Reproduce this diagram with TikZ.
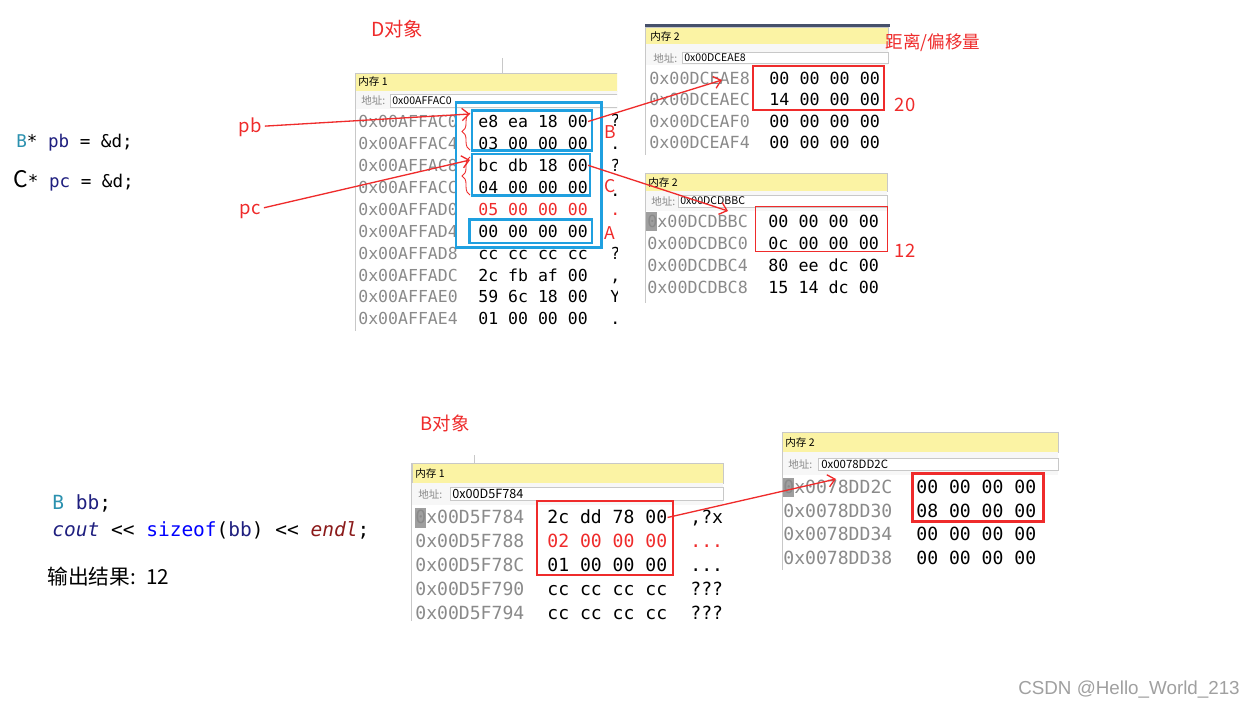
\documentclass[tikz,border=0pt]{standalone}
\usepackage{fontspec}
\setmainfont{Noto Sans CJK SC}
\setmonofont{DejaVu Sans Mono}
\newfontfamily\markfont{Liberation Sans}
\usetikzlibrary{arrows.meta, decorations.pathreplacing}
\definecolor{notered}{HTML}{EF2B2B}
\definecolor{boxblue}{HTML}{1FA0E0}
\definecolor{titleyellow}{HTML}{FBF3A4}
\definecolor{addrgray}{HTML}{8A8A8A}
\definecolor{framegray}{HTML}{C8C8C8}
\definecolor{framedark}{HTML}{46506A}
\definecolor{typeteal}{HTML}{2B91AF}
\definecolor{identnavy}{HTML}{1F1F7F}
\definecolor{kwblue}{HTML}{0000FF}
\definecolor{endlred}{HTML}{8B1A1A}
\definecolor{markgray}{HTML}{A0A0A0}

\begin{document}
\begin{tikzpicture}[x=0.02cm, y=-0.02cm,
  addr/.style={anchor=west, inner sep=0pt, text height=1.3ex, text depth=0pt, text=addrgray},
  hex/.style={anchor=west, inner sep=0pt, text height=1.3ex, text depth=0pt},
  bar/.style={fill=titleyellow, draw=framegray, line width=0.4pt},
  barlabel/.style={anchor=west, inner sep=0pt, font=\fontsize{6}{7}\selectfont},
  addrfield/.style={fill=white, draw=framegray, line width=0.4pt},
  note/.style={text=notered, inner sep=0pt, outer sep=2pt, font=\fontsize{10.5}{12}\selectfont},
  bluebox/.style={draw=boxblue, line width=1.3pt},
  redbox/.style={draw=notered, line width=0.9pt},
  curl/.style={draw=notered, line width=0.5pt, decorate, decoration={brace, amplitude=4.5pt}},
  arr/.style={-{Straight Barb[length=4pt, width=7pt]}, draw=notered, line width=0.75pt},
  code/.style={anchor=west, inner sep=0pt, font=\ttfamily\fontsize{10}{12}\selectfont},
]
\fill[white] (0,0) rectangle (1256,709);
\useasboundingbox (0,0) rectangle (1256,709);

% D object, memory 1
\node[note, font=\fontsize{11}{12}\selectfont] (dobj) at (397,29) {D对象};
\draw[framegray] (502,58) -- (502,73);
\begin{scope}[font=\ttfamily\fontsize{9.4}{11}\selectfont]
\clip (354,60) rectangle (617,331);
\draw[bar] (355,73) rectangle (620,91);
\fill[gray!6] (355,91) rectangle (620,109);
\draw[addrfield] (390,94) rectangle (620,107);
\draw[framegray] (355,73) -- (355,331);
\node[barlabel] (m1title) at (358,82) {内存 1};
\node[barlabel, text=addrgray] (m1lbl) at (361,100.5) {地址:};
\node[barlabel] (m1addr) at (392,100.5) {0x00AFFAC0};
\node[addr] (m1a0) at (358,121.5) {0x00AFFAC0};
\node[hex] (m1h0) at (478,121.5) {e8 ea 18 00};
\node[hex] (m1c0) at (610,120.5) {?};
\node[addr] (m1a1) at (358,143.4) {0x00AFFAC4};
\node[hex] (m1h1) at (478,143.4) {03 00 00 00};
\node[hex] (m1c1) at (610,143.4) {.};
\node[addr] (m1a2) at (358,165.3) {0x00AFFAC8};
\node[hex] (m1h2) at (478,165.3) {bc db 18 00};
\node[hex] (m1c2) at (610,165.3) {?};
\node[addr] (m1a3) at (358,187.2) {0x00AFFACC};
\node[hex] (m1h3) at (478,187.2) {04 00 00 00};
\node[hex] (m1c3) at (610,190) {.};
\node[addr] (m1a4) at (358,209.1) {0x00AFFAD0};
\node[hex, text=notered] (m1h4) at (478,209.1) {05 00 00 00};
\node[hex, text=notered] (m1c4) at (610,209.1) {.};
\node[addr] (m1a5) at (358,231) {0x00AFFAD4};
\node[hex] (m1h5) at (478,231) {00 00 00 00};
\node[addr] (m1a6) at (358,252.9) {0x00AFFAD8};
\node[hex] (m1h6) at (478,252.9) {cc cc cc cc};
\node[hex] (m1c6) at (610,252.9) {?};
\node[addr] (m1a7) at (358,274.8) {0x00AFFADC};
\node[hex] (m1h7) at (478,274.8) {2c fb af 00};
\node[hex] (m1c7) at (610,274.8) {,};
\node[addr] (m1a8) at (358,296.7) {0x00AFFAE0};
\node[hex] (m1h8) at (478,296.7) {59 6c 18 00};
\node[hex] (m1c8) at (610,296.7) {Y};
\node[addr] (m1a9) at (358,318.6) {0x00AFFAE4};
\node[hex] (m1h9) at (478,318.6) {01 00 00 00};
\node[hex] (m1c9) at (610,318.6) {.};
\end{scope}
\draw[bluebox] (456,102.5) rectangle (601.5,247.5);
\draw[bluebox] (472,110.5) rectangle (592,150.5);
\draw[bluebox] (472,154) rectangle (590,195.5);
\draw[bluebox] (469.5,219.5) rectangle (592,243);
\draw[curl] (470,150) -- (470,113);
\draw[curl] (470,195) -- (470,157);
\node[note, font=\fontsize{10}{12}\selectfont] (lblB) at (610,132) {B};
\node[note, font=\fontsize{10}{12}\selectfont] (lblC) at (610,186) {C};
\node[note, font=\fontsize{10}{12}\selectfont] (lblA) at (610,233) {A};

% memory 2, offset of B
\draw[framedark, line width=1.2pt] (645,25.5) -- (890,25.5);
\begin{scope}[font=\ttfamily\fontsize{9.5}{11}\selectfont]
\draw[bar] (645,27) rectangle (888,44);
\fill[gray!6] (645,44) rectangle (888,65);
\draw[addrfield] (682,52) rectangle (888,63.5);
\draw[framegray] (645,27) -- (645,155);
\node[barlabel] (m2title) at (650,36.5) {内存 2};
\node[barlabel, text=addrgray] (m2lbl) at (653,58) {地址:};
\node[barlabel] (m2addr) at (684,58) {0x00DCEAE8};
\node[addr] (m2a0) at (649,78.5) {0x00DCEAE8};
\node[hex] (m2h0) at (769,78.5) {00 00 00 00};
\node[addr] (m2a1) at (649,99.7) {0x00DCEAEC};
\node[hex] (m2h1) at (769,99.7) {14 00 00 00};
\node[addr] (m2a2) at (649,120.9) {0x00DCEAF0};
\node[hex] (m2h2) at (769,120.9) {00 00 00 00};
\node[addr] (m2a3) at (649,142.1) {0x00DCEAF4};
\node[hex] (m2h3) at (769,142.1) {00 00 00 00};
\end{scope}
\draw[redbox] (753,66) rectangle (884,110);
\node[note] (offB) at (905,105) {20};
\node[note, font=\fontsize{10}{12}\selectfont] (offtitle) at (933,43) {距离/偏移量};

% memory 2, offset of C
\begin{scope}[font=\ttfamily\fontsize{9.5}{11}\selectfont]
\draw[bar] (645,173) rectangle (887,191);
\fill[gray!6] (645,191) rectangle (887,211);
\draw[addrfield] (678,195) rectangle (887,207);
\draw[framegray] (645,173) -- (645,303);
\node[barlabel] (m3title) at (648,183) {内存 2};
\node[barlabel, text=addrgray] (m3lbl) at (651,201) {地址:};
\node[barlabel] (m3addr) at (680,201) {0x00DCDBBC};
\fill[gray!75] (646,212) rectangle (656.5,231);
\node[addr] (m3a0) at (647,221.5) {0x00DCDBBC};
\node[hex] (m3h0) at (768,221.5) {00 00 00 00};
\node[addr] (m3a1) at (647,243.3) {0x00DCDBC0};
\node[hex] (m3h1) at (768,243.3) {0c 00 00 00};
\node[addr] (m3a2) at (647,265.1) {0x00DCDBC4};
\node[hex] (m3h2) at (768,265.1) {80 ee dc 00};
\node[addr] (m3a3) at (647,286.9) {0x00DCDBC8};
\node[hex] (m3h3) at (768,286.9) {15 14 dc 00};
\end{scope}
\draw[redbox] (755.5,206.5) rectangle (887.5,251.5);
\node[note] (offC) at (905,251) {12};

% pointers
\node[code] (ptrb) at (16,143) {\textcolor{typeteal}{B}* \textcolor{identnavy}{pb} = \&d;};
\node[code] (ptrc) at (13,181) {{\rmfamily\fontsize{13}{13}\selectfont C}* \textcolor{identnavy}{pc} = \&d;};
\node[note] (pbl) at (250,127) {pb};
\node[note] (pcl) at (250,211) {pc};
\coordinate (pbtip) at (470,114);
\coordinate (pctip) at (470,160);
\coordinate (m2tip) at (722,80);
\coordinate (m3tip) at (728,211);
\draw[arr] (pbl) -- (pbtip);
\draw[arr] (pcl) -- (pctip);
\draw[arr] (m1h0.east) -- (m2tip);
\draw[arr] (m1h2.east) -- (m3tip);

% B object, memory 1
\node[note] (bobj) at (445,423) {B对象};
\draw[framegray] (474,455) -- (474,463);
\begin{scope}[font=\ttfamily\fontsize{10.3}{12}\selectfont]
\draw[bar] (412,463) rectangle (723,483);
\fill[gray!6] (412,483) rectangle (723,505);
\draw[addrfield] (450,487) rectangle (723,500.5);
\draw[framegray] (411.5,463) -- (411.5,621);
\node[barlabel] (m4title) at (415,473.5) {内存 1};
\node[barlabel, text=addrgray] (m4lbl) at (418,494) {地址:};
\node[barlabel, font=\fontsize{7.2}{8}\selectfont] (m4addr) at (452,494) {0x00D5F784};
\fill[gray!75] (415,508) rectangle (425.5,528);
\node[addr] (m4a0) at (415,517.5) {0x00D5F784};
\node[hex] (m4h0) at (547,517.5) {2c dd 78 00};
\node[hex] (m4c0) at (690,517.5) {,?x};
\node[addr] (m4a1) at (415,541.5) {0x00D5F788};
\node[hex, text=notered] (m4h1) at (547,541.5) {02 00 00 00};
\node[hex, text=notered] (m4c1) at (690,541.5) {...};
\node[addr] (m4a2) at (415,565.5) {0x00D5F78C};
\node[hex] (m4h2) at (547,565.5) {01 00 00 00};
\node[hex] (m4c2) at (690,565.5) {...};
\node[addr] (m4a3) at (415,589.5) {0x00D5F790};
\node[hex] (m4h3) at (547,589.5) {cc cc cc cc};
\node[hex] (m4c3) at (690,589.5) {???};
\node[addr] (m4a4) at (415,613.5) {0x00D5F794};
\node[hex] (m4h4) at (547,613.5) {cc cc cc cc};
\node[hex] (m4c4) at (690,613.5) {???};
\end{scope}
\draw[redbox] (537,501) rectangle (673,575);

% memory 2, offset of A in B
\begin{scope}[font=\ttfamily\fontsize{10.3}{12}\selectfont]
\draw[bar] (782,432) rectangle (1058,452);
\fill[gray!6] (782,452) rectangle (1058,475);
\draw[addrfield] (818,458) rectangle (1058,470);
\draw[framegray] (782,432) -- (782,570);
\node[barlabel] (m5title) at (785,443) {内存 2};
\node[barlabel, text=addrgray] (m5lbl) at (788,464) {地址:};
\node[barlabel, font=\fontsize{6.5}{8}\selectfont] (m5addr) at (821,464) {0x0078DD2C};
\fill[gray!75] (783,478) rectangle (793.5,497);
\node[addr] (m5a0) at (783,487) {0x0078DD2C};
\node[hex] (m5h0) at (916,487) {00 00 00 00};
\node[addr] (m5a1) at (783,510.8) {0x0078DD30};
\node[hex] (m5h1) at (916,510.8) {08 00 00 00};
\node[addr] (m5a2) at (783,534.6) {0x0078DD34};
\node[hex] (m5h2) at (916,534.6) {00 00 00 00};
\node[addr] (m5a3) at (783,558.4) {0x0078DD38};
\node[hex] (m5h3) at (916,558.4) {00 00 00 00};
\end{scope}
\draw[redbox, line width=1.7pt] (912,473.5) rectangle (1043,521.5);
\coordinate (m5tip) at (836,479);
\draw[arr] (m4h0.east) -- (m5tip);

% code and output
\node[code, font=\ttfamily\fontsize{11.1}{13}\selectfont] (decl) at (52,503) {\textcolor{typeteal}{B} \textcolor{identnavy}{bb};};
\node[code, font=\ttfamily\fontsize{11.1}{13}\selectfont] (print) at (52,530) {\textcolor{identnavy}{\itshape cout} << \textcolor{kwblue}{sizeof}(\textcolor{identnavy}{bb}) << \textcolor{endlred}{\itshape endl};};
\node[anchor=west, inner sep=0pt, font=\fontsize{11.8}{13}\selectfont] (result) at (47,577) {输出结果:\hspace{0.5em}12};

\node[text=markgray, font=\markfont\fontsize{10.7}{12}\selectfont] (mark) at (1129,690) {CSDN @Hello\_World\_213};
\end{tikzpicture}
\end{document}
